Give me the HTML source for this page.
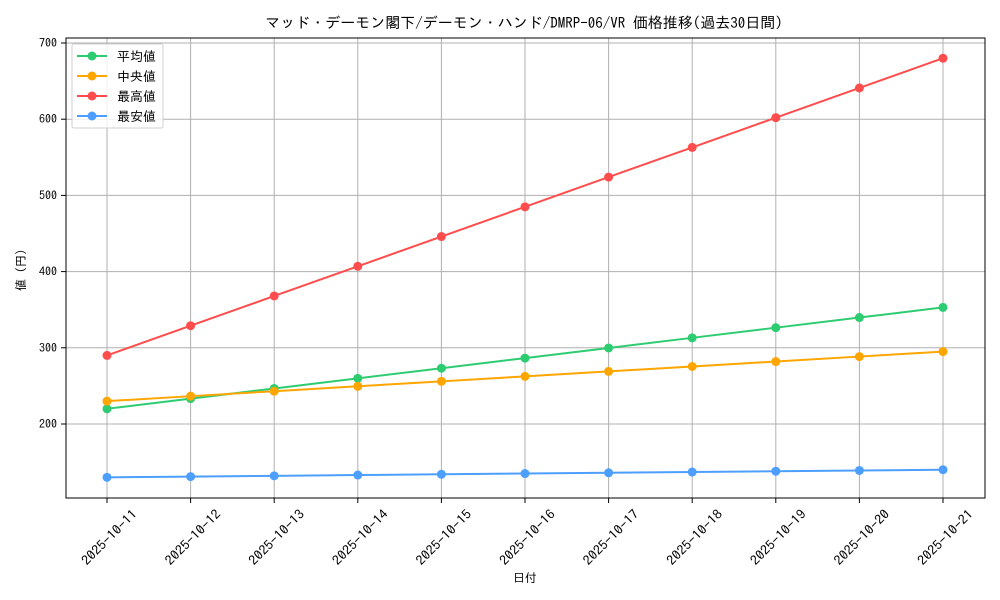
<!DOCTYPE html>
<html><head><meta charset="utf-8"><style>
html,body{margin:0;padding:0;background:#fff;width:1000px;height:600px;overflow:hidden}
text{font-family:"IPAGothic","Liberation Mono","Noto Sans CJK JP",monospace;fill:#000}
</style></head><body>
<svg id="s" width="1000" height="600" xmlns="http://www.w3.org/2000/svg">
<text x="524" y="28" font-size="15" text-anchor="middle">マッド・デーモン閣下/デーモン・ハンド/DMRP-06/VR 価格推移(過去30日間)</text>
<g id="grid" stroke="#b0b0b0" stroke-width="1"></g>
<g id="lines"></g>
<rect x="66" y="38" width="919" height="460" fill="none" stroke="#000" stroke-width="1"/>
<g id="ticks"></g>
<text x="525" y="582" font-size="12" text-anchor="middle">日付</text>
<text transform="translate(25,270) rotate(-90)" font-size="12" text-anchor="middle">値 (円)</text>
<g>
<rect x="72" y="44" width="91" height="84" fill="#fff" fill-opacity="0.8" stroke="#d0d0d0" rx="2"/>
<line x1="77" x2="107" y1="56" y2="56" stroke="#2ecc71" stroke-width="2"/><circle cx="92" cy="56" r="4.5" fill="#2ecc71"/><text x="117" y="61" font-size="13">平均値</text>
<line x1="77" x2="107" y1="76" y2="76" stroke="#ffa500" stroke-width="2"/><circle cx="92" cy="76" r="4.5" fill="#ffa500"/><text x="117" y="81" font-size="13">中央値</text>
<line x1="77" x2="107" y1="96" y2="96" stroke="#ff4d4d" stroke-width="2"/><circle cx="92" cy="96" r="4.5" fill="#ff4d4d"/><text x="117" y="101" font-size="13">最高値</text>
<line x1="77" x2="107" y1="116" y2="116" stroke="#4d9fff" stroke-width="2"/><circle cx="92" cy="116" r="4.5" fill="#4d9fff"/><text x="117" y="121" font-size="13">最安値</text>
</g>
</svg>
<script>
var NS="http://www.w3.org/2000/svg";
function el(p,t,a,txt){var e=document.createElementNS(NS,t);for(var k in a)e.setAttribute(k,a[k]);if(txt)e.textContent=txt;document.getElementById(p).appendChild(e);return e;}
function X(i){return 107+i*83.6}
function Y(v){return 43+(700-v)*0.762}
for(var i=0;i<11;i++){var x=X(i);
el("grid","line",{x1:x,x2:x,y1:38,y2:498});
el("ticks","line",{x1:x,x2:x,y1:498,y2:503,stroke:"#000"});
var d=11+i;
el("ticks","text",{"font-size":"13","text-anchor":"middle",textLength:"72",lengthAdjust:"spacingAndGlyphs",transform:"translate("+(x+2)+",537) rotate(-45) translate(0,5)"},"2025-10-"+d);}
for(var v=200;v<=700;v+=100){var y=Y(v);
el("grid","line",{x1:66,x2:985,y1:y,y2:y});
el("ticks","line",{x1:61,x2:66,y1:y,y2:y,stroke:"#000"});
el("ticks","text",{x:57,y:y+4,"font-size":"12","text-anchor":"end"},""+v);}
var S=[["#2ecc71",220,13.3],["#ffa500",230,6.5],["#ff4d4d",290,39],["#4d9fff",130,1]];
S.forEach(function(s){var pts=[];for(var i=0;i<11;i++)pts.push(X(i)+","+Y(s[1]+s[2]*i));
el("lines","polyline",{points:pts.join(" "),fill:"none",stroke:s[0],"stroke-width":"2"});
for(var i=0;i<11;i++)el("lines","circle",{cx:X(i),cy:Y(s[1]+s[2]*i),r:"4.5",fill:s[0]});});
</script>
</body></html>
